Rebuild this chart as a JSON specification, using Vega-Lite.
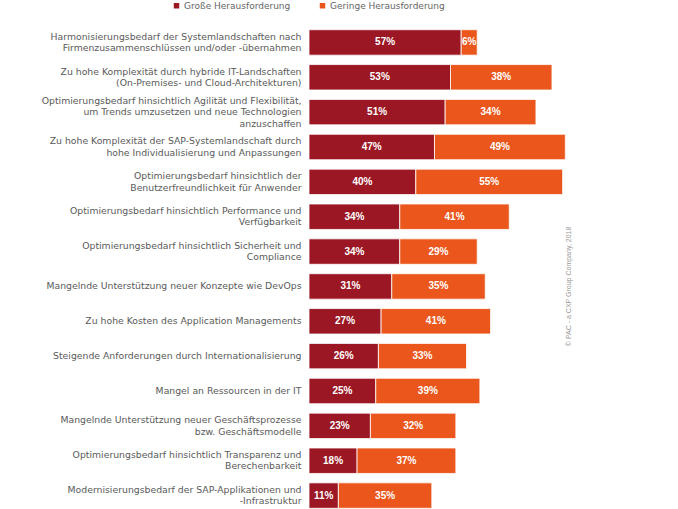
{
  "$schema": "https://vega.github.io/schema/vega-lite/v6.json",
  "width": 267,
  "height": 488,
  "autosize": {"type": "none"},
  "padding": {"left": 309, "top": 25, "right": 102, "bottom": 0},
  "background": "white",
  "config": {"view": {"stroke": null}},
  "datasets": {
    "bars": [
      {"cat": "Harmonisierungsbedarf der Systemlandschaften nach|Firmenzusammenschlüssen und/oder -übernahmen", "type": "Große Herausforderung", "o": 1, "value": 57, "label": "57%"},
      {"cat": "Harmonisierungsbedarf der Systemlandschaften nach|Firmenzusammenschlüssen und/oder -übernahmen", "type": "Geringe Herausforderung", "o": 2, "value": 6, "label": "6%"},
      {"cat": "Zu hohe Komplexität durch hybride IT-Landschaften|(On-Premises- und Cloud-Architekturen)", "type": "Große Herausforderung", "o": 1, "value": 53, "label": "53%"},
      {"cat": "Zu hohe Komplexität durch hybride IT-Landschaften|(On-Premises- und Cloud-Architekturen)", "type": "Geringe Herausforderung", "o": 2, "value": 38, "label": "38%"},
      {"cat": "Optimierungsbedarf hinsichtlich Agilität und Flexibilität,|um Trends umzusetzen und neue Technologien|anzuschaffen", "type": "Große Herausforderung", "o": 1, "value": 51, "label": "51%"},
      {"cat": "Optimierungsbedarf hinsichtlich Agilität und Flexibilität,|um Trends umzusetzen und neue Technologien|anzuschaffen", "type": "Geringe Herausforderung", "o": 2, "value": 34, "label": "34%"},
      {"cat": "Zu hohe Komplexität der SAP-Systemlandschaft durch|hohe Individualisierung und Anpassungen", "type": "Große Herausforderung", "o": 1, "value": 47, "label": "47%"},
      {"cat": "Zu hohe Komplexität der SAP-Systemlandschaft durch|hohe Individualisierung und Anpassungen", "type": "Geringe Herausforderung", "o": 2, "value": 49, "label": "49%"},
      {"cat": "Optimierungsbedarf hinsichtlich der|Benutzerfreundlichkeit für Anwender", "type": "Große Herausforderung", "o": 1, "value": 40, "label": "40%"},
      {"cat": "Optimierungsbedarf hinsichtlich der|Benutzerfreundlichkeit für Anwender", "type": "Geringe Herausforderung", "o": 2, "value": 55, "label": "55%"},
      {"cat": "Optimierungsbedarf hinsichtlich Performance und|Verfügbarkeit", "type": "Große Herausforderung", "o": 1, "value": 34, "label": "34%"},
      {"cat": "Optimierungsbedarf hinsichtlich Performance und|Verfügbarkeit", "type": "Geringe Herausforderung", "o": 2, "value": 41, "label": "41%"},
      {"cat": "Optimierungsbedarf hinsichtlich Sicherheit und|Compliance", "type": "Große Herausforderung", "o": 1, "value": 34, "label": "34%"},
      {"cat": "Optimierungsbedarf hinsichtlich Sicherheit und|Compliance", "type": "Geringe Herausforderung", "o": 2, "value": 29, "label": "29%"},
      {"cat": "Mangelnde Unterstützung neuer Konzepte wie DevOps", "type": "Große Herausforderung", "o": 1, "value": 31, "label": "31%"},
      {"cat": "Mangelnde Unterstützung neuer Konzepte wie DevOps", "type": "Geringe Herausforderung", "o": 2, "value": 35, "label": "35%"},
      {"cat": "Zu hohe Kosten des Application Managements", "type": "Große Herausforderung", "o": 1, "value": 27, "label": "27%"},
      {"cat": "Zu hohe Kosten des Application Managements", "type": "Geringe Herausforderung", "o": 2, "value": 41, "label": "41%"},
      {"cat": "Steigende Anforderungen durch Internationalisierung", "type": "Große Herausforderung", "o": 1, "value": 26, "label": "26%"},
      {"cat": "Steigende Anforderungen durch Internationalisierung", "type": "Geringe Herausforderung", "o": 2, "value": 33, "label": "33%"},
      {"cat": "Mangel an Ressourcen in der IT", "type": "Große Herausforderung", "o": 1, "value": 25, "label": "25%"},
      {"cat": "Mangel an Ressourcen in der IT", "type": "Geringe Herausforderung", "o": 2, "value": 39, "label": "39%"},
      {"cat": "Mangelnde Unterstützung neuer Geschäftsprozesse|bzw. Geschäftsmodelle", "type": "Große Herausforderung", "o": 1, "value": 23, "label": "23%"},
      {"cat": "Mangelnde Unterstützung neuer Geschäftsprozesse|bzw. Geschäftsmodelle", "type": "Geringe Herausforderung", "o": 2, "value": 32, "label": "32%"},
      {"cat": "Optimierungsbedarf hinsichtlich Transparenz und|Berechenbarkeit", "type": "Große Herausforderung", "o": 1, "value": 18, "label": "18%"},
      {"cat": "Optimierungsbedarf hinsichtlich Transparenz und|Berechenbarkeit", "type": "Geringe Herausforderung", "o": 2, "value": 37, "label": "37%"},
      {"cat": "Modernisierungsbedarf der SAP-Applikationen und|-Infrastruktur", "type": "Große Herausforderung", "o": 1, "value": 11, "label": "11%"},
      {"cat": "Modernisierungsbedarf der SAP-Applikationen und|-Infrastruktur", "type": "Geringe Herausforderung", "o": 2, "value": 35, "label": "35%"}
    ],
    "note": [
      {"cat": "Mangelnde Unterstützung neuer Konzepte wie DevOps", "pos": 97.4, "text": "© PAC - a CXP Group Company, 2018"}
    ]
  },
  "layer": [
    {
      "data": {"name": "bars"},
      "mark": {"type": "bar", "stroke": "white", "strokeWidth": 0.8},
      "encoding": {
        "y": {
          "field": "cat", "type": "nominal", "sort": null,
          "scale": {"paddingInner": 0.27, "paddingOuter": 0.135},
          "axis": {
            "title": null, "domain": false, "ticks": false, "labelPadding": 8,
            "labelLimit": 320, "labelFont": "DejaVu Sans", "labelFontSize": 9.3,
            "labelColor": "#5a5a5a", "labelLineHeight": 11.5,
            "labelOffset": {"condition": [
              {"test": "length(split(datum.value, '|')) == 3", "value": -11.5},
              {"test": "length(split(datum.value, '|')) == 2", "value": -5.75}
            ], "value": 0},
            "labelExpr": "split(datum.label, '|')"
          }
        },
        "x": {
          "field": "value", "type": "quantitative", "stack": "zero",
          "scale": {"domain": [0, 100]}, "axis": null
        },
        "order": {"field": "o", "type": "quantitative"},
        "color": {
          "field": "type", "type": "nominal",
          "scale": {"domain": ["Große Herausforderung", "Geringe Herausforderung"], "range": ["#9B1724", "#EA561B"]},
          "legend": {
            "title": null, "orient": "none", "direction": "horizontal",
            "legendX": -137, "legendY": -24,
            "symbolType": "square", "symbolSize": 30, "symbolStrokeWidth": 0,
            "labelFont": "DejaVu Sans", "labelFontSize": 9, "labelColor": "#666666",
            "labelOffset": 3, "columnPadding": 27
          }
        }
      }
    },
    {
      "data": {"name": "bars"},
      "mark": {"type": "text", "color": "white", "font": "Liberation Sans", "fontWeight": "bold", "fontSize": 10, "baseline": "middle", "align": "center"},
      "encoding": {
        "y": {"field": "cat", "type": "nominal", "sort": null},
        "x": {"field": "value", "type": "quantitative", "stack": "zero", "bandPosition": 0.5},
        "order": {"field": "o", "type": "quantitative"},
        "detail": {"field": "type"},
        "text": {"field": "label", "type": "nominal"}
      }
    },
    {
      "data": {"name": "note"},
      "mark": {"type": "text", "angle": 270, "font": "Liberation Sans", "fontSize": 7, "color": "#999999", "align": "center", "baseline": "middle"},
      "encoding": {
        "y": {"field": "cat", "type": "nominal", "sort": null},
        "x": {"field": "pos", "type": "quantitative"},
        "text": {"field": "text"}
      }
    }
  ]
}
